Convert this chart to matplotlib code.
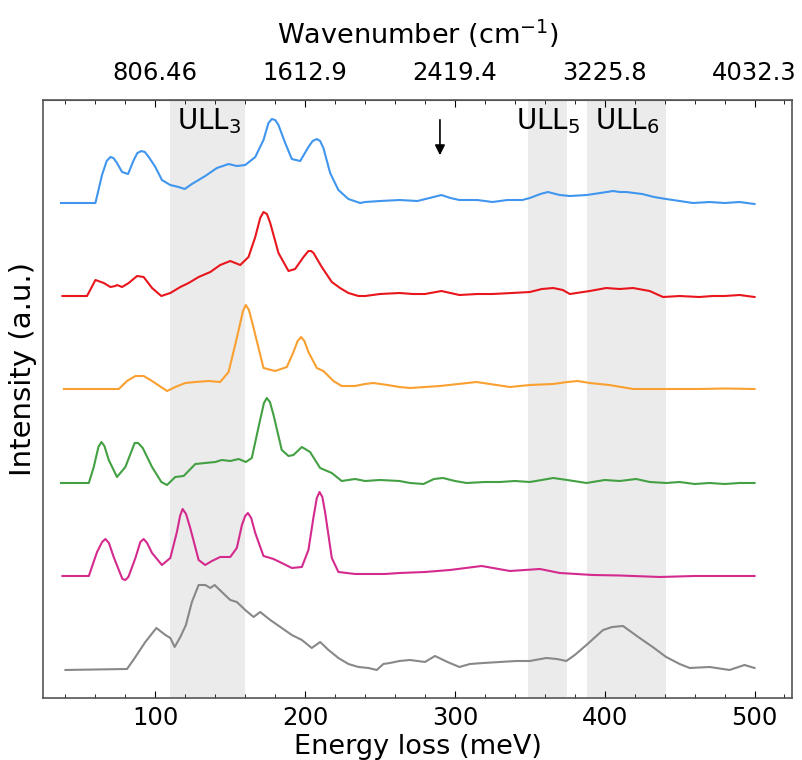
import numpy as np
import matplotlib
matplotlib.use('Agg')
from matplotlib import pyplot as plt

# (energy loss meV, intensity a.u. relative to the trace's own baseline)
blue = [(37, 0), (60, 0), (64.4, 2.8), (67.5, 4.2), (70, 4.6), (72, 4.5), (74.4, 4.0), (77.8, 3.1),
        (81.8, 2.9), (85.6, 4.3), (88, 5.0), (90.7, 5.2), (93, 5.1), (95.6, 4.6), (100, 3.6),
        (104.4, 2.3), (110, 1.8), (115.6, 1.6), (119.6, 1.4), (124.4, 1.9), (133.3, 2.7),
        (141.1, 3.5), (148.9, 3.9), (154.4, 3.7), (160, 3.8), (166.7, 4.6), (172.2, 6.3),
        (175.5, 8.0), (177.8, 8.4), (180, 8.3), (182.2, 7.8), (186.7, 6.0), (191.1, 4.4),
        (196.7, 4.2), (202.2, 5.6), (205, 6.2), (207.8, 6.4), (210, 6.2), (212.2, 5.5),
        (216.7, 3.0), (222.2, 1.3), (228.9, 0.4), (236.7, 0.0), (240, 0.1), (250, 0.2), (263, 0.3),
        (275, 0.2), (283, 0.5), (291, 0.8), (297, 0.5), (303, 0.3), (315, 0.3), (325, 0.1),
        (335, 0.3), (345, 0.3), (350, 0.5), (357, 0.9), (362, 1.1), (370, 0.8), (376.7, 0.7),
        (388, 0.8), (397, 1.0), (405.6, 1.2), (410, 1.1), (414.4, 1.1), (425, 0.9), (433, 0.6),
        (441, 0.4), (450, 0.2), (459, 0.0), (470, 0.1), (480, 0.0), (490, 0.1), (500, -0.1)]

red = [(38, 0), (54.4, 0), (60, 1.6), (65.6, 1.3), (70, 0.9), (73.3, 1.0), (74.4, 1.1), (77.8, 0.9),
       (82.2, 1.3), (87.8, 2.0), (92.2, 1.9), (97.8, 0.8), (104, 0), (110, 0.3), (116.7, 0.9),
       (122.2, 1.3), (128.9, 1.9), (136.7, 2.4), (143.3, 3.1), (150, 3.5), (156.7, 3.1),
       (162.2, 3.9), (166.7, 5.9), (170, 7.8), (172.2, 8.4), (174.5, 8.2), (176.7, 7.3),
       (182.2, 4.3), (188.9, 2.5), (193.3, 2.7), (198.9, 3.9), (202.2, 4.5), (204, 4.5),
       (205.6, 4.3), (211.1, 2.9), (217.8, 1.4), (223.3, 0.8), (228.9, 0.3), (235.6, 0), (240, 0),
       (250, 0.2), (263, 0.3), (272, 0.2), (280, 0.2), (291, 0.5), (303, 0.1), (315, 0.2),
       (325, 0.2), (338, 0.3), (350, 0.4), (358, 0.7), (365.6, 0.8), (372, 0.6), (376.7, 0.2),
       (390, 0.5), (401, 0.8), (410, 0.7), (418.9, 0.8), (430, 0.5), (438.9, -0.1), (450, 0.0),
       (463, -0.1), (472, 0.0), (480, 0.0), (490, 0.1), (500, -0.1)]

orange = [(39, 0), (75.6, 0), (81.1, 0.8), (86.7, 1.3), (92.2, 1.3), (97.8, 0.8), (107.8, -0.2),
          (113.3, 0.2), (120, 0.6), (126.7, 0.7), (135.6, 0.8), (143.3, 0.7), (148.9, 1.7),
          (154.4, 5.1), (158.5, 7.8), (160.4, 8.4), (162.5, 7.9), (165.6, 6.1), (172.2, 2.1),
          (180, 1.8), (187.8, 2.2), (192.2, 3.7), (195, 4.8), (197.3, 5.2), (199.5, 4.8),
          (202.2, 3.7), (207.8, 2.1), (212.2, 1.8), (218.9, 0.8), (224.4, 0.3), (233.3, 0.3),
          (240, 0.5), (245.5, 0.6), (255, 0.4), (263, 0.2), (270, 0.1), (290, 0.3), (314.4, 0.7),
          (336.7, 0.2), (350, 0.4), (365.6, 0.5), (375, 0.7), (382, 0.8), (390, 0.6), (403, 0.4),
          (419, 0.0), (440, 0.0), (463, 0.0), (480, 0.05), (500, 0.0)]

green = [(37, 0), (55.6, 0), (58.9, 1.6), (62, 3.6), (64, 4.1), (66, 3.7), (68.9, 2.3), (74.4, 0.6),
         (80, 1.6), (86.2, 4.0), (88.5, 4.0), (91.6, 3.5), (97.8, 1.6), (104, 0.1), (107.8, -0.2),
         (113.3, 0.6), (118.9, 0.7), (126.7, 1.9), (133.3, 2.0), (140, 2.1), (144.4, 2.3),
         (150, 2.2), (155.6, 2.4), (160.4, 2.1), (164.4, 2.5), (168.9, 5.6), (172.5, 8.0),
         (174.4, 8.5), (176.5, 8.1), (178.9, 6.8), (184.4, 3.3), (188.9, 2.7), (192.2, 2.8),
         (197.8, 3.6), (203.3, 3.1), (210, 1.5), (217.8, 1.0), (224.4, 0.2), (233.3, 0.4),
         (240, 0.2), (250, 0.3), (263, 0.2), (270, 0.0), (279, -0.1), (286, 0.4), (292, 0.5),
         (300, 0.2), (307.8, 0.0), (320, 0.1), (330, 0.1), (340, 0.2), (350, 0.1), (358, 0.3),
         (365.6, 0.5), (375, 0.3), (387.8, 0.0), (400, 0.3), (410, 0.2), (421, 0.4), (430, 0.1),
         (441, 0.0), (450, 0.1), (460, -0.1), (470, 0.0), (480, -0.1), (490, 0.0), (500, 0.0)]

magenta = [(38, 0), (55.6, 0), (61.1, 2.4), (64.5, 3.4), (66.7, 3.7), (69, 3.3), (72.2, 1.9),
           (78, -0.3), (80, -0.4), (82, -0.1), (86.7, 1.8), (90, 3.4), (92.2, 3.7), (94.5, 3.3),
           (97.8, 2.3), (104.4, 1.1), (110, 1.8), (114.4, 4.4), (116.5, 6.0), (118.2, 6.7),
           (120.5, 6.2), (123.3, 4.8), (128.9, 1.6), (133.3, 1.1), (137.8, 1.5), (143.3, 1.9),
           (150, 1.9), (154.4, 2.8), (157.8, 5.1), (160, 6.0), (161.8, 6.3), (164, 5.8),
           (166.7, 4.3), (172.2, 2.0), (178.9, 1.7), (184.4, 1.3), (191.1, 0.8), (197.8, 0.9),
           (202.2, 2.6), (205.6, 5.9), (207.8, 7.8), (209.6, 8.4), (211.5, 7.9), (213.3, 6.4),
           (217.8, 1.8), (222.2, 0.4), (233.3, 0.2), (244.4, 0.2), (253.3, 0.2), (263, 0.3),
           (280, 0.4), (296.7, 0.6), (317.8, 1.0), (336.7, 0.5), (356.7, 0.7), (370, 0.3),
           (392, 0.1), (410, 0.05), (436.7, -0.1), (460, 0.0), (480, 0.0), (500, 0.0)]

gray = [(40, 0), (81.1, 0.1), (86.7, 1.3), (93.3, 2.8), (100.7, 4.2), (106.7, 3.5), (110, 3.2),
        (112.9, 2.3), (116.7, 3.3), (120.4, 4.5), (124.4, 6.8), (128.9, 8.5), (133.3, 8.5),
        (136.7, 8.2), (139.6, 8.5), (144.4, 7.8), (150, 7.0), (154.4, 6.8), (160, 6.0),
        (165.6, 5.3), (170, 5.8), (176.7, 5.0), (184.4, 4.2), (191.1, 3.5), (197.8, 3.0),
        (204.4, 2.2), (210, 2.8), (215.6, 2.0), (222.2, 1.2), (228.9, 0.6), (235.6, 0.3),
        (242.2, 0.2), (247.8, 0.0), (252.2, 0.6), (256.7, 0.7), (263, 0.9), (270, 1.0), (280, 0.8),
        (286.7, 1.4), (295, 0.8), (303, 0.3), (310, 0.6), (319, 0.7), (330, 0.8), (341, 0.9),
        (350, 0.9), (361, 1.2), (368, 1.1), (374.4, 0.9), (380, 1.5), (387.8, 2.5), (398.9, 4.0),
        (405, 4.3), (412.2, 4.4), (423.3, 3.2), (432, 2.3), (441, 1.3), (450, 0.6), (456.7, 0.2),
        (470, 0.3), (483.3, 0.0), (493.3, 0.5), (500, 0.2)]

spectra = [blue, red, orange, green, magenta, gray]
offsets = [49.5, 40.2, 30.9, 21.5, 12.2, 2.8]
colors = ['#4096ee', '#e8161c', '#f9a030', '#43a043', '#d42a8e', '#888888']

# ULL bands (meV)
bands = [(110, 160), (349, 375), (388, 441)]
band_labels = ['ULL$_3$', 'ULL$_5$', 'ULL$_6$']
band_label_x = [136, 362, 415]

ev2cm = 8.0646  # 1 meV in cm^-1
major = [100, 200, 300, 400, 500]
minor = np.arange(40, 521, 20)

fig = plt.figure(figsize=(8.02, 7.6), dpi=100)
ax = fig.add_axes([0.0536, 0.0816, 0.9339, 0.7868])

for x0, x1 in bands:
    ax.axvspan(x0, x1, color='#ebebeb', lw=0, zorder=0)

for sp, off, c in zip(spectra, offsets, colors):
    e, i = np.array(sp).T
    ax.plot(e, i + off, color=c, lw=1.5)

for lab, x in zip(band_labels, band_label_x):
    ax.text(x, 57.7, lab, fontsize=20, ha='center', va='center')

ax.annotate('', xy=(290, 54.0), xytext=(290, 58.1),
            arrowprops=dict(arrowstyle='-|>', color='k', lw=1.2, mutation_scale=15))

ax.set_xlim(25, 525)
ax.set_ylim(0, 59.8)
ax.set_yticks([])
ax.set_xticks(major)
ax.set_xticks(minor, minor=True)
ax.tick_params(axis='x', which='both', direction='in', labelsize=17.5, pad=6)
ax.tick_params(axis='x', which='major', length=5)
ax.tick_params(axis='x', which='minor', length=3)
ax.set_xlabel('Energy loss (meV)', fontsize=19.5, labelpad=3)
ax.set_ylabel('Intensity (a.u.)', fontsize=21)
ax.yaxis.set_label_coords(-0.008, 0.55)
for s in ax.spines.values():
    s.set_color('#555555')
    s.set_linewidth(1.2)

sec = ax.secondary_xaxis('top', functions=(lambda x: x * ev2cm, lambda x: x / ev2cm))
sec.set_xticks([k * ev2cm for k in major])
sec.set_xticklabels(['%.5g' % (k * ev2cm) for k in major])
sec.set_xticks([k * ev2cm for k in minor], minor=True)
sec.tick_params(axis='x', which='both', direction='in', labelsize=17.5, pad=11)
sec.tick_params(axis='x', which='major', length=5)
sec.tick_params(axis='x', which='minor', length=3)
sec.set_xlabel('Wavenumber (cm$^{-1}$)', fontsize=19.5, labelpad=12)
sec.spines['top'].set_color('#555555')

fig.savefig('out.png', dpi=100)
